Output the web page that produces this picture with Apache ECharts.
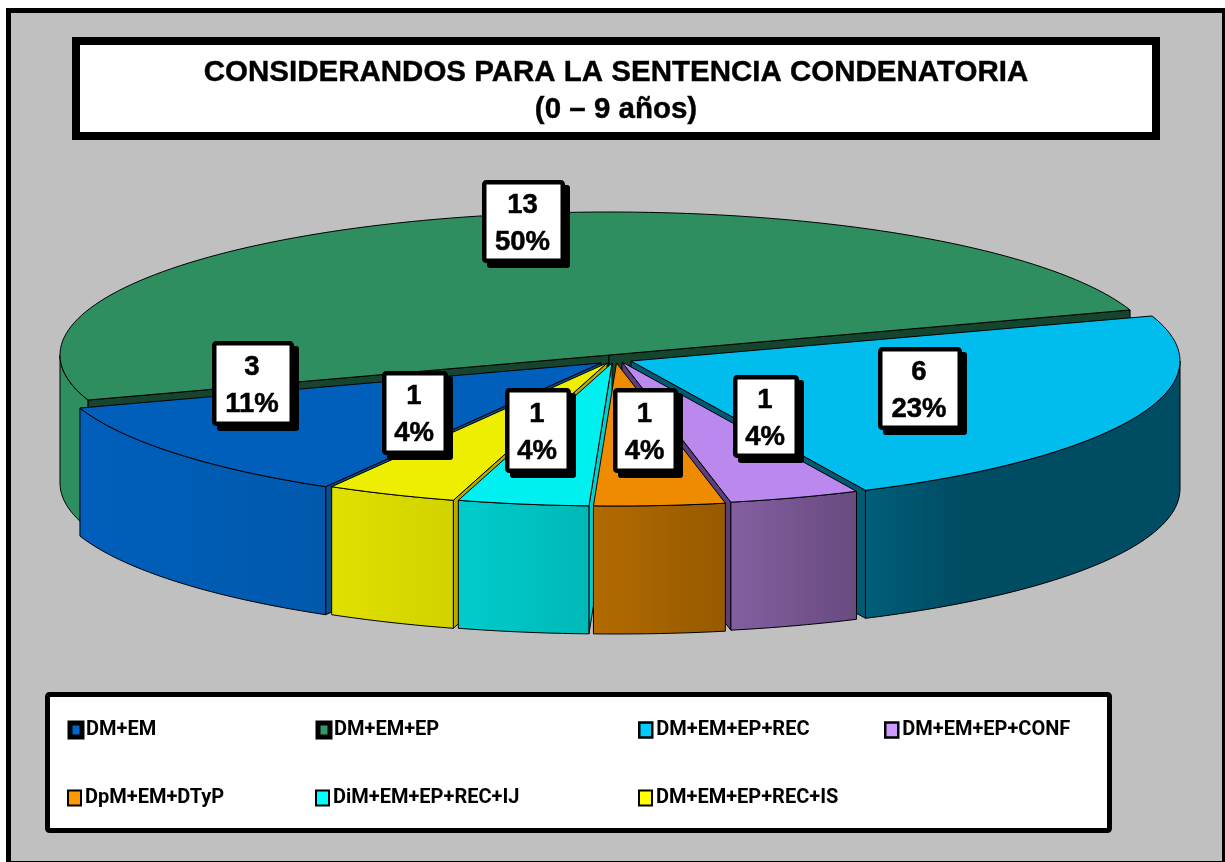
<!DOCTYPE html>
<html><head><meta charset="utf-8">
<script src="https://cdn.jsdelivr.net/npm/echarts@6/dist/echarts.min.js"></script>
<style>html,body{margin:0;padding:0;background:#fff;overflow:hidden}#c{width:1225px;height:862px}</style>
</head><body><div id="c"></div>
<script>
// ---- data ----
const categories = ['DM+EM','DM+EM+EP','DM+EM+EP+REC','DM+EM+EP+CONF','DpM+EM+DTyP','DiM+EM+EP+REC+IJ','DM+EM+EP+REC+IS'];
const counts = [3,13,6,1,1,1,1];
const percents = [11,50,23,4,4,4,4];
const titleText = 'CONSIDERANDOS PARA LA SENTENCIA CONDENATORIA\n(0 \u2013 9 a\u00f1os)';

// ---- styles ----
const topColors  = ['#005FBB','#2E8E5F','#00BDEE','#BB88EE','#EE8B00','#00F0F0','#EEEE00'];
const legendColors = ['#0066CC','#339966','#00CCFF','#CC99FF','#FF9900','#00FFFF','#FFFF00'];
const legendBorders = [5,5,2.5,2.5,2,2,2];
const wallColors = [['#005FBB','#0059AC'],['#2E8E5F','#2E8E5F'],['#005F7A','#004C63'],['#835F9F','#694A80'],['#B36B00','#965A00'],['#00CCCC','#00B8B8'],['#E0E000','#D2D200']];
const faceColors = ['#0B4C8C','#15452E','#005A72','#5B3F7A','#8A5200','#00D0D0','#B8A800'];
// ---- layout ----
const apexes = [[601,363],[609,355],[631,361],[622,362],[616.5,363],[612,363],[607,363]];
const paintOrder = [1,0,2,6,3,5,4];
const RX = 549, RY = 143, DEPTH = 128, START_DEG = 239.9;
const labelBoxes = [[212,341,294,426],[482,180,565,263],[878,347,962,430],[733,375,799,458],[613,388,678,473],[505,388,571,473],[382,371,448,455]];
const legendPos = [[67.5,720],[315.5,720],[638,720],[884,720],[67,788],[315,788],[638,788]];
const legendSwatch = [[12,14],[12,14],[13,15],[13,15],[13,15],[13,15],[13,15]];

const total = counts.reduce((a,b)=>a+b,0);
const spans = []; { let a = START_DEG; counts.forEach(v=>{ const b = a - v/total*360; spans.push([a,b]); a = b; }); }
const pt = (i,deg,d=0)=>{ const r=deg*Math.PI/180; return [apexes[i][0]+RX*Math.cos(r), apexes[i][1]-RY*Math.sin(r)+d]; };
function arc(i,a,b,d=0){ const n=Math.max(2,Math.ceil(Math.abs(a-b)/1.5)); const out=[]; for(let k=0;k<=n;k++) out.push(pt(i,a+(b-a)*k/n,d)); return out; }
const edge = {stroke:'#000',lineWidth:1,lineJoin:'round'};
const sinD = d=>Math.sin(d*Math.PI/180);

function drawSlice(i){
  const [a,b] = spans[i]; const c = apexes[i]; const ch = [];
  const face = deg=>{ const p=pt(i,deg);
    ch.push({type:'polygon',shape:{points:[c,p,[p[0],p[1]+DEPTH],[c[0],c[1]+DEPTH]]},style:{fill:faceColors[i],...edge}}); };
  // only the cut faces that turn towards the viewer
  if (sinD(a+90)<0) face(a);
  if (sinD(b-90)<0) face(b);
  const ranges = [];
  for (const [lo,hi] of [[180,360],[-180,0]]) {
    const h=Math.min(a,hi), l=Math.max(b,lo);
    if (h>l) ranges.push([h,l]);
  }
  ranges.forEach(([h,l])=>{
    const t=arc(i,h,l), u=arc(i,h,l,DEPTH).reverse();
    ch.push({type:'polygon',shape:{points:t.concat(u)},style:{fill:{type:'linear',x:0,y:0,x2:1,y2:0,colorStops:[{offset:0,color:wallColors[i][0]},{offset:i===2?0.3:1,color:wallColors[i][1]}]},...edge}});
  });
  ch.push({type:'polygon',shape:{points:[c].concat(arc(i,a,b))},style:{fill:topColors[i],...edge}});
  return {type:'group',children:ch};
}
function drawLabel(idx,val){
  const [x0,y0,x1,y1]=labelBoxes[idx];
  const s=4.5, w=x1-x0-s, h=y1-y0-s;
  return {type:'group',children:[
    {type:'rect',shape:{x:x0+5,y:y0+5,width:x1-x0,height:y1-y0,r:3},style:{fill:'#000'}},
    {type:'rect',shape:{x:x0+s/2,y:y0+s/2,width:w,height:h,r:2},style:{fill:'#fff',stroke:'#000',lineWidth:s}},
    {type:'text',style:{text:val[0]+'\n'+val[1]+'%',x:(x0+x1)/2-1,y:(y0+y1)/2+2,align:'center',verticalAlign:'middle',font:'bold 27.5px "Liberation Sans"',lineHeight:37,fill:'#000',stroke:'#000',lineWidth:0.5}}
  ]};
}
const series = categories.map((name,i)=>({
  name, type:'custom', coordinateSystem:'none', silent:true, animation:false,
  z:10+paintOrder.indexOf(i), itemStyle:{color:legendColors[i]},
  data:[[counts[i]]], renderItem:()=>drawSlice(i)
}));
series.push({name:'etiquetas',type:'custom',coordinateSystem:'none',silent:true,animation:false,z:30,
  data:counts.map((v,i)=>[v,percents[i]]),
  renderItem:(p,api)=>drawLabel(p.dataIndex,[api.value(0),api.value(1)])});

const legends = categories.map((name,i)=>({
  show:true,left:legendPos[i][0],top:legendPos[i][1],padding:0,orient:'horizontal',selectedMode:false,
  itemWidth:legendSwatch[i][0],itemHeight:legendSwatch[i][1],itemGap:0,
  textStyle:{fontFamily:'Roboto',fontWeight:'bold',fontSize:20,color:'#000',padding:[0,0,0,-1]},
  data:[{name,icon:'rect',itemStyle:{color:legendColors[i],borderColor:'#000',borderWidth:legendBorders[i]}}]
}));
const chart = echarts.init(document.getElementById('c'),null,{renderer:'canvas'});
chart.setOption({
  animation:false, backgroundColor:'#fff',
  title:{text:titleText,left:616,top:54,textAlign:'center',padding:0,
    textStyle:{fontFamily:'"Liberation Sans"',fontWeight:'bold',fontSize:29.5,lineHeight:37,color:'#000',align:'center',textBorderColor:'#000',textBorderWidth:0.4}},
  legend:legends,
  graphic:[
    {type:'rect',z:-5,shape:{x:8.5,y:10.5,width:1216,height:853},style:{fill:'#C0C0C0',stroke:'#000',lineWidth:5}},
    {type:'rect',z:-4,shape:{x:76,y:41,width:1080,height:95},style:{fill:'#fff',stroke:'#000',lineWidth:8}},
    {type:'rect',z:-4,shape:{x:47.5,y:694.5,width:1062,height:136,r:2},style:{fill:'#fff',stroke:'#000',lineWidth:5}}
  ],
  series
});
</script></body></html>
